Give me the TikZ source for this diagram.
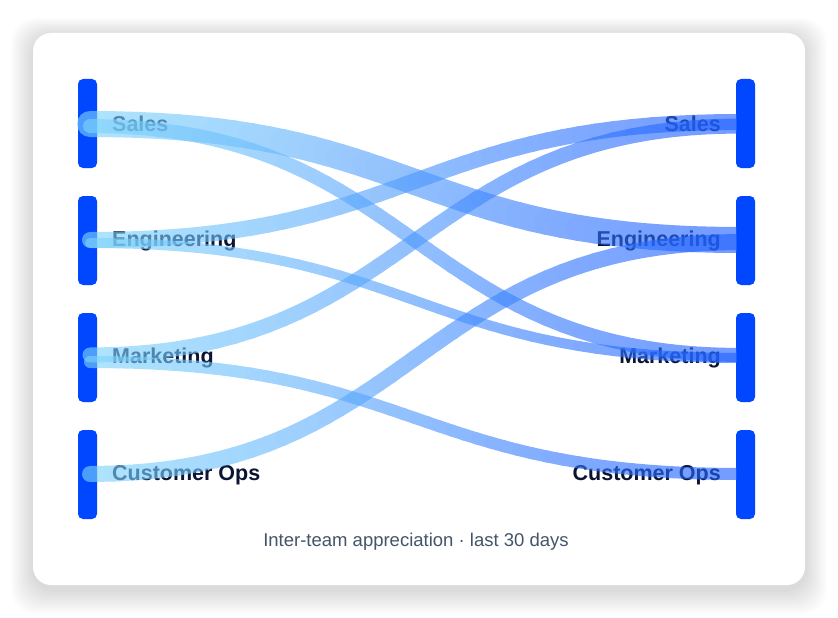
\documentclass[tikz,border=0pt]{standalone}
\usepackage{fontspec}
\setmainfont{Liberation Sans}
\definecolor{navy}{HTML}{0B1533}
\definecolor{barblue}{HTML}{0047FF}
\definecolor{fl}{HTML}{7DD3FC}
\definecolor{fr}{HTML}{1E5EFF}
\definecolor{cap}{HTML}{44546A}
\newcommand{\myflow}[3]{%
\begin{scope}[transparency group,opacity=0.62]
\foreach \i in {0,...,39}{%
 \pgfmathsetmacro{\ta}{\i/40}\pgfmathsetmacro{\tb}{(\i+1)/40}%
 \pgfmathsetmacro{\xa}{90+650*(1.5*\ta-1.5*\ta*\ta+\ta*\ta*\ta)}%
 \pgfmathsetmacro{\xb}{90+650*(1.5*\tb-1.5*\tb*\tb+\tb*\tb*\tb)}%
 \pgfmathsetmacro{\ya}{#1+(#2-#1)*(3*\ta*\ta-2*\ta*\ta*\ta)}%
 \pgfmathsetmacro{\yb}{#1+(#2-#1)*(3*\tb*\tb-2*\tb*\tb*\tb)}%
 \pgfmathsetmacro{\pc}{100-\i*2.5}%
 \draw[line width=#3pt,color=fl!\pc!fr,line cap=round] (\xa,\ya) -- (\xb,\yb);
}
\end{scope}}
\begin{document}
\begin{tikzpicture}[x=1pt,y=-1pt,
 bar/.style={fill=barblue,rounded corners=5pt},
 lab/.style={font=\fontsize{21.5}{24}\selectfont\bfseries,text=navy,inner sep=0pt}]
\useasboundingbox (0,0) rectangle (838,618);
\foreach \k in {1,...,12}{
 \fill[black,opacity=0.011,rounded corners=24pt] (33-\k*1.8,36-\k*1.5) rectangle (805+\k*1.8,590+\k*2);}
\fill[white,rounded corners=18pt] (33,33) rectangle (805,585);
\foreach \y in {79,196,313,430}{
 \fill[bar] (78,\y) rectangle (97,\y+89);
 \fill[bar] (736,\y) rectangle (755,\y+89);}
\foreach \n/\y in {s/79,e/196,m/313,c/430}{
 \coordinate (L\n) at (97,\y+45);
 \coordinate (R\n) at (736,\y+45);}
\node[lab,anchor=west] (ls) at ([xshift=15pt]Ls) {Sales};
\node[lab,anchor=west] (le) at ([xshift=15pt]Le) {Engineering};
\node[lab,anchor=west] (lm) at ([xshift=15pt]Lm) {Marketing};
\node[lab,anchor=west] (lc) at ([xshift=15pt]Lc) {Customer Ops};
\node[lab,anchor=east] (rs) at ([xshift=-15pt]Rs) {Sales};
\node[lab,anchor=east] (re) at ([xshift=-15pt]Re) {Engineering};
\node[lab,anchor=east] (rm) at ([xshift=-15pt]Rm) {Marketing};
\node[lab,anchor=east] (rc) at ([xshift=-15pt]Rc) {Customer Ops};
\begin{scope}
\clip (0,0) rectangle (736,618);
\myflow{124}{240}{26}
\myflow{126}{355}{14}
\myflow{240}{122}{16}
\myflow{243}{358}{10}
\myflow{355}{126}{15}
\myflow{362}{474}{12}
\myflow{474}{242}{16}
\end{scope}
\node[font=\fontsize{18.5}{21}\selectfont,text=cap] (cp) at (416,542) {Inter-team appreciation · last 30 days};
\end{tikzpicture}
\end{document}
